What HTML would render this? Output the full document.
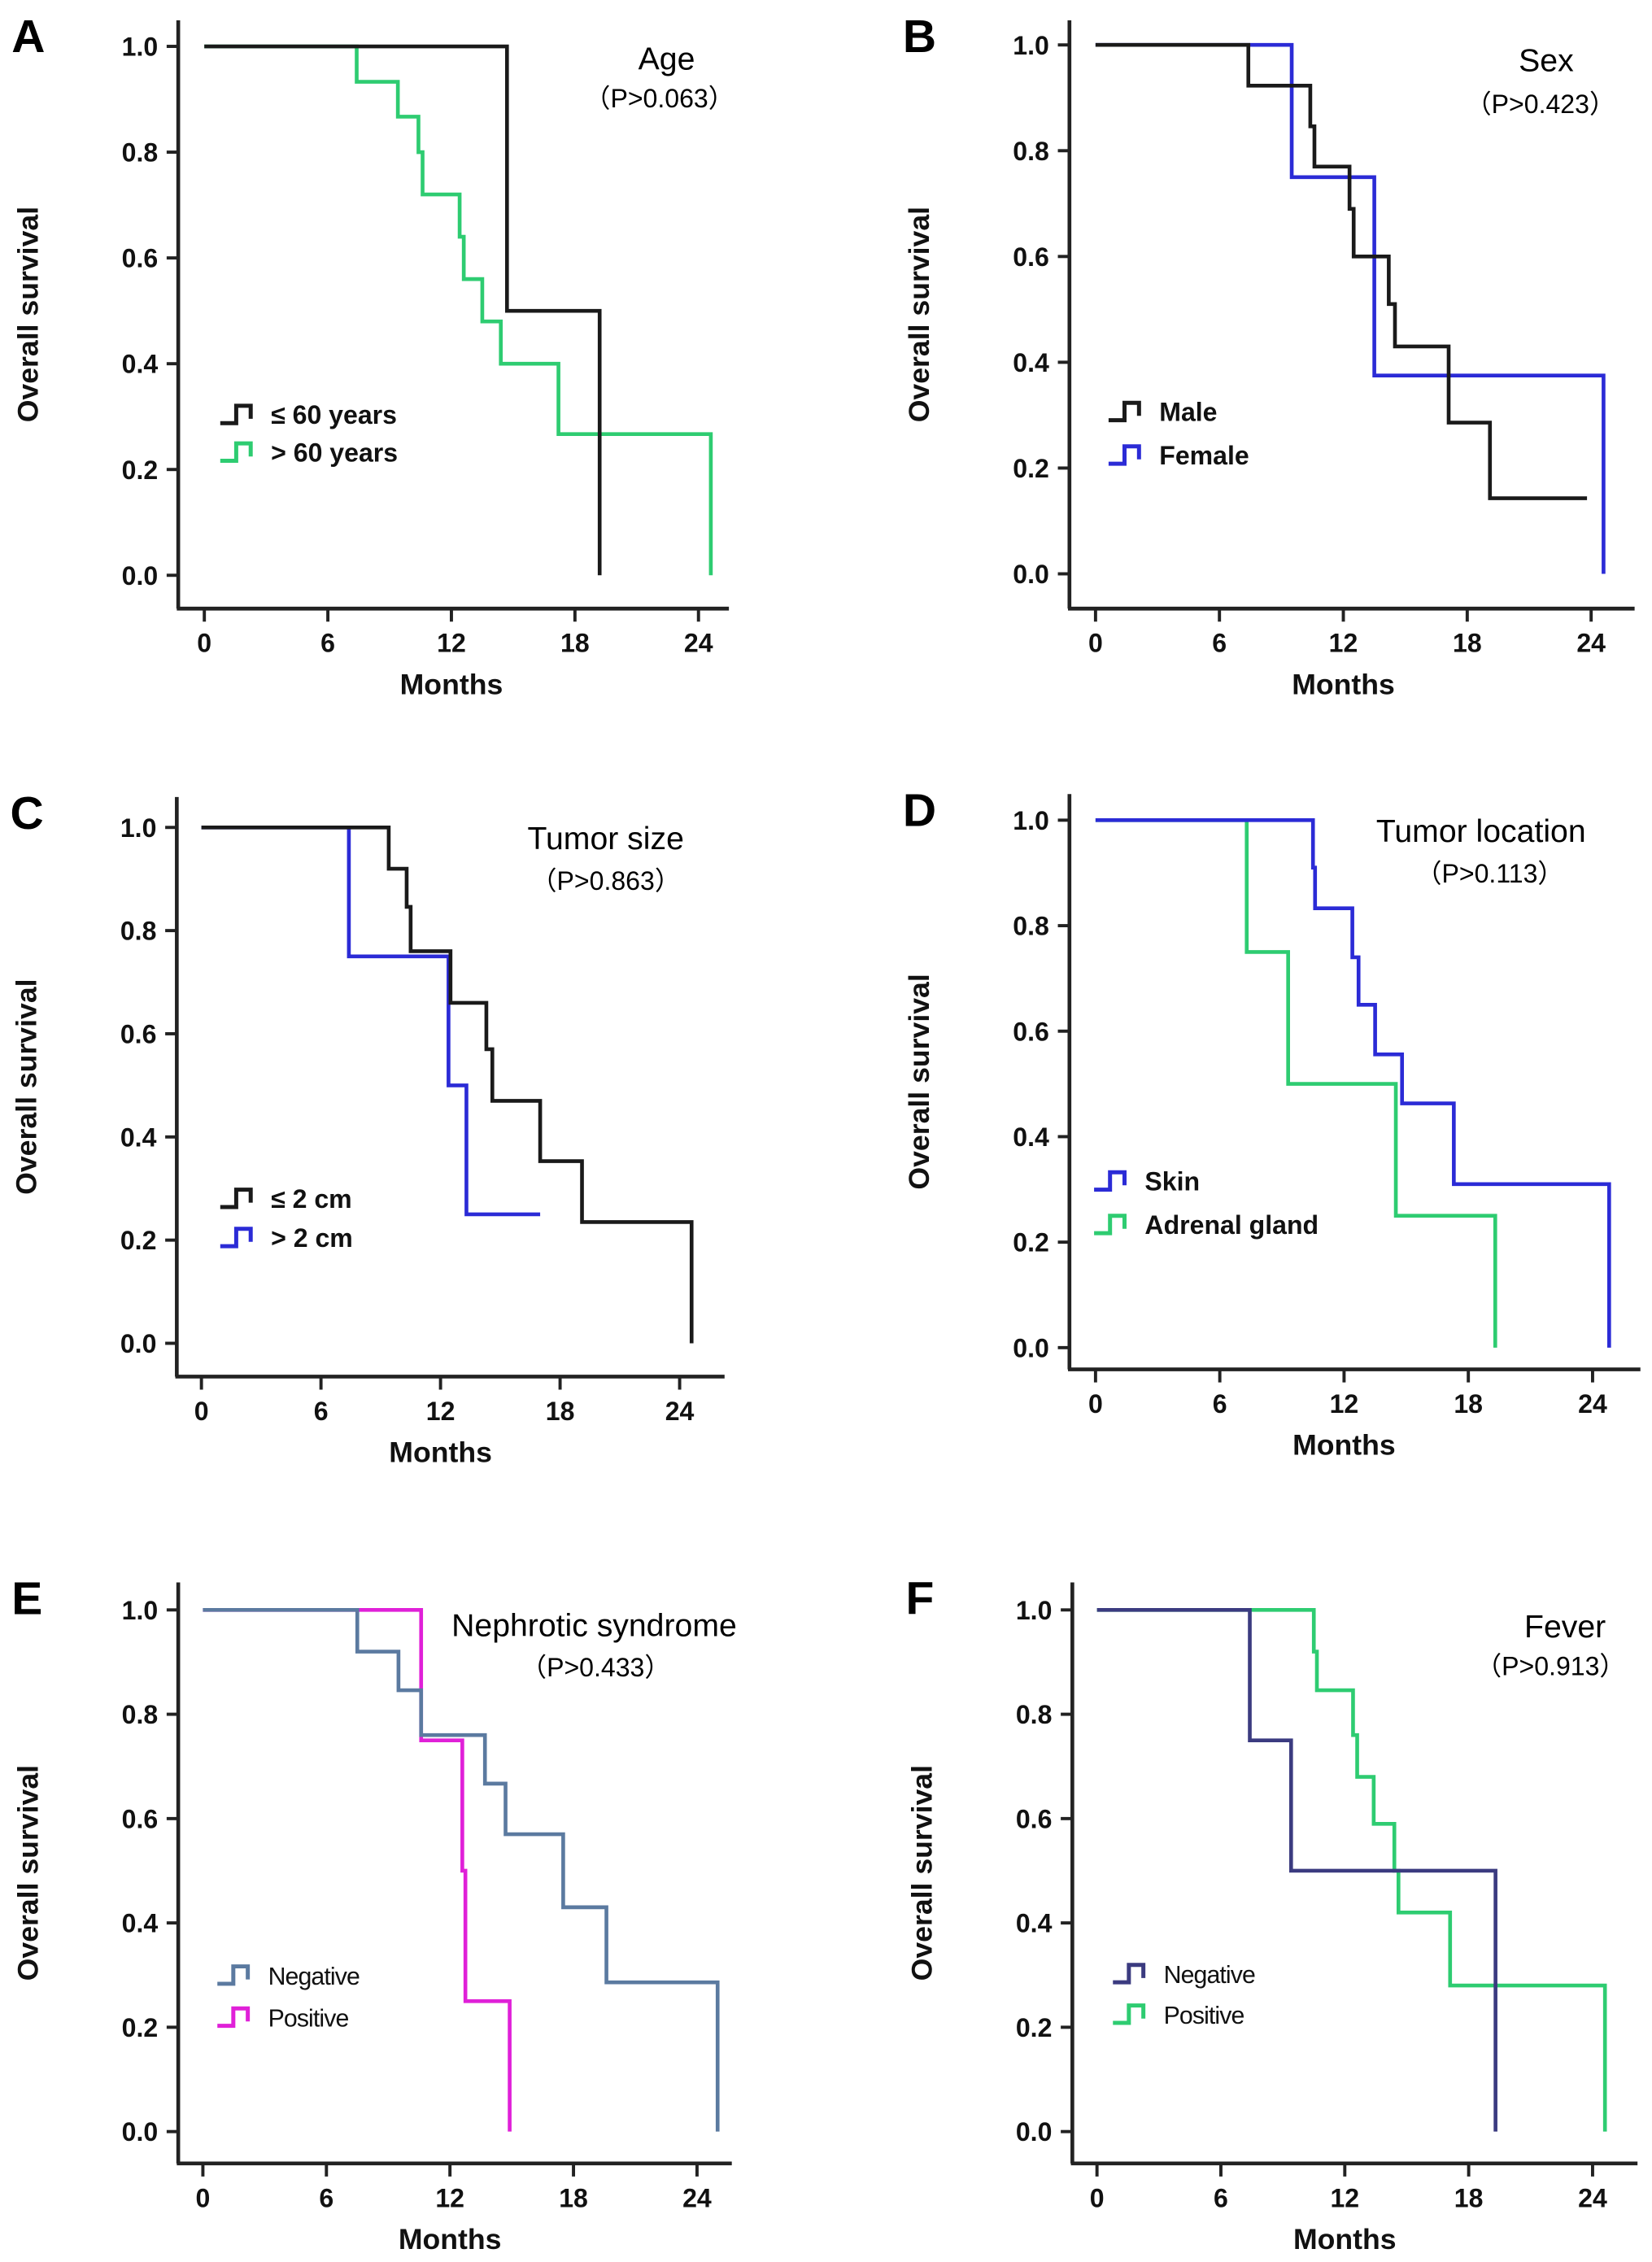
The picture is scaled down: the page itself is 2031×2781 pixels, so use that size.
<!DOCTYPE html>
<html><head><meta charset="utf-8"><style>
html,body{margin:0;padding:0;background:#fff;}
svg{display:block;}
text{font-family:"Liberation Sans",Arial,sans-serif;}
</style></head><body>
<svg id="fig" width="2031" height="2781" viewBox="0 0 1140 1561" preserveAspectRatio="none" xmlns="http://www.w3.org/2000/svg"></svg>
<script>
// ---- Data (months of step, survival after step) ----
const aYoungT=[14.7,19.2], aYoungS=[0.5,0], aYoungEnd=19.2;
const aOldT=[7.4,9.4,10.4,10.6,12.4,12.6,13.5,14.4,17.2,24.6], aOldS=[0.933,0.867,0.8,0.72,0.64,0.56,0.48,0.40,0.267,0], aOldEnd=24.6;
const bMaleT=[7.4,10.4,10.6,12.3,12.5,14.2,14.5,17.1,19.1], bMaleS=[0.923,0.846,0.77,0.69,0.6,0.51,0.43,0.286,0.143], bMaleEnd=23.8;
const bFemT=[9.5,13.5,24.6], bFemS=[0.75,0.375,0], bFemEnd=24.6;
const cSmallT=[9.4,10.3,10.5,12.5,14.3,14.6,17.0,19.1,24.6], cSmallS=[0.92,0.846,0.76,0.66,0.57,0.47,0.353,0.235,0], cSmallEnd=24.6;
const cLargeT=[7.4,12.4,13.3], cLargeS=[0.75,0.5,0.25], cLargeEnd=17.0;
const dSkinT=[10.5,10.6,12.4,12.7,13.5,14.8,17.3,24.8], dSkinS=[0.91,0.833,0.74,0.65,0.556,0.463,0.31,0], dSkinEnd=24.8;
const dAdrT=[7.3,9.3,14.5,19.3], dAdrS=[0.75,0.5,0.25,0], dAdrEnd=19.3;
const eNegT=[7.5,9.5,10.6,13.7,14.7,17.5,19.6,25.0], eNegS=[0.92,0.846,0.76,0.667,0.57,0.43,0.286,0], eNegEnd=25.0;
const ePosT=[10.6,12.6,12.75,14.9], ePosS=[0.75,0.5,0.25,0], ePosEnd=14.9;
const fNegT=[7.4,9.4,19.3], fNegS=[0.75,0.5,0], fNegEnd=19.3;
const fPosT=[10.5,10.65,12.4,12.6,13.4,14.4,14.6,17.1,24.6], fPosS=[0.92,0.846,0.76,0.68,0.59,0.5,0.42,0.28,0], fPosEnd=24.6;
const xTicks=[0,6,12,18,24];
const yTicks=[0,0.2,0.4,0.6,0.8,1.0];
const yTickLabels=["0.0","0.2","0.4","0.6","0.8","1.0"];

const NS="http://www.w3.org/2000/svg";
const svg=document.getElementById('fig');
function el(tag,attrs,parent,txt){const e=document.createElementNS(NS,tag);for(const k in attrs)e.setAttribute(k,attrs[k]);if(txt!==undefined)e.textContent=txt;(parent||svg).appendChild(e);return e;}

const panels=[
 {id:'a',letter:'A',ax:123,top:14,xaxY:420,right:503,x0:141,x24:482,y1:32,y0:397,title:'Age',tx:460,ty:40,p:'（P>0.063）',px:455,py:68,
  series:[{name:'≤ 60 years',T:aYoungT,S:aYoungS,end:aYoungEnd,c:'#1a1a1a'},{name:'> 60 years',T:aOldT,S:aOldS,end:aOldEnd,c:'#2ecc71'}],
  legX:152,legY:[286,312],bold:true},
 {id:'b',letter:'B',ax:738,top:14,xaxY:420,right:1128,x0:756,x24:1098,y1:31,y0:396,title:'Sex',tx:1067,ty:41,p:'（P>0.423）',px:1063,py:72,
  series:[{name:'Male',T:bMaleT,S:bMaleS,end:bMaleEnd,c:'#1a1a1a'},{name:'Female',T:bFemT,S:bFemS,end:bFemEnd,c:'#2b2bd6'}],
  legX:765,legY:[284,314],bold:true},
 {id:'c',letter:'C',ax:122,top:550,xaxY:950,right:500,x0:139,x24:469,y1:571,y0:927,title:'Tumor size',tx:418,ty:578,p:'（P>0.863）',px:418,py:608,
  series:[{name:'≤ 2 cm',T:cSmallT,S:cSmallS,end:cSmallEnd,c:'#1a1a1a'},{name:'> 2 cm',T:cLargeT,S:cLargeS,end:cLargeEnd,c:'#2b2bd6'}],
  legX:152,legY:[827,854],bold:true},
 {id:'d',letter:'D',ax:738,top:548,xaxY:945,right:1132,x0:756,x24:1099,y1:566,y0:930,title:'Tumor location',tx:1022,ty:573,p:'（P>0.113）',px:1028,py:603,
  series:[{name:'Skin',T:dSkinT,S:dSkinS,end:dSkinEnd,c:'#2b2bd6'},{name:'Adrenal gland',T:dAdrT,S:dAdrS,end:dAdrEnd,c:'#2ecc71'}],
  legX:755,legY:[815,845],bold:true},
 {id:'e',letter:'E',ax:123,top:1092,xaxY:1493,right:505,x0:140,x24:481,y1:1111,y0:1471,title:'Nephrotic syndrome',tx:410,ty:1121,p:'（P>0.433）',px:411,py:1151,
  series:[{name:'Negative',T:eNegT,S:eNegS,end:eNegEnd,c:'#5b7aa0'},{name:'Positive',T:ePosT,S:ePosS,end:ePosEnd,c:'#e020d8'}],
  legX:150,legY:[1363,1392],bold:false},
 {id:'f',letter:'F',ax:740,top:1092,xaxY:1493,right:1130,x0:757,x24:1099,y1:1111,y0:1471,title:'Fever',tx:1080,ty:1122,p:'（P>0.913）',px:1070,py:1150,
  series:[{name:'Negative',T:fNegT,S:fNegS,end:fNegEnd,c:'#3b3b80'},{name:'Positive',T:fPosT,S:fPosS,end:fPosEnd,c:'#2ecc71'}],
  legX:768,legY:[1362,1390],bold:false}
];

panels.forEach(P=>{
  const g=el('g',{});
  
  
  const X=m=>P.x0+(P.x24-P.x0)*m/24;
  const Y=v=>P.y0+(P.y1-P.y0)*v;
  const L=el('text',{x:P.ax-115,y:P.top+22,'font-size':32,'font-weight':'bold',fill:'#000'},g,P.letter);
  
  
  const ya=el('line',{x1:P.ax,y1:P.top,x2:P.ax,y2:P.xaxY,stroke:'#222','stroke-width':2.6},g);
  
  
  const xa=el('line',{x1:P.ax-1,y1:P.xaxY,x2:P.right,y2:P.xaxY,stroke:'#222','stroke-width':2.6},g);
  
  
  yTicks.forEach((v,i)=>{
    el('line',{x1:P.ax-8,y1:Y(v),x2:P.ax,y2:Y(v),stroke:'#222','stroke-width':2.2},g);
    const t=el('text',{x:P.ax-14,y:Y(v)+6.5,'font-size':18,'font-weight':'bold','text-anchor':'end',fill:'#111'},g,yTickLabels[i]);
    
    
  });
  xTicks.forEach(m=>{
    el('line',{x1:X(m),y1:P.xaxY,x2:X(m),y2:P.xaxY+9,stroke:'#222','stroke-width':2.2},g);
    const t=el('text',{x:X(m),y:P.xaxY+30,'font-size':18,'font-weight':'bold','text-anchor':'middle',fill:'#111'},g,String(m));
    
    
  });
  const xt=el('text',{x:X(12),y:P.xaxY+59,'font-size':20,'font-weight':'bold','text-anchor':'middle',fill:'#111'},g,'Months');
  
  
  const cy=(P.top+P.xaxY)/2;
  const yt=el('text',{x:P.ax-97,y:cy,'font-size':20,'font-weight':'bold','text-anchor':'middle',fill:'#111',transform:`rotate(-90 ${P.ax-97} ${cy})`},g,'Overall survival');
  
  
  const ti=el('text',{x:P.tx,y:P.ty+8,'font-size':22,'text-anchor':'middle',fill:'#000'},g,P.title);
  
  
  const pv=el('text',{x:P.px,y:P.py+6,'font-size':18,'text-anchor':'middle',fill:'#000'},g,P.p);
  
  
  P.series.slice().reverse().forEach(s=>{
    let d=`M${X(0)},${Y(1)}`;let cur=1;
    s.T.forEach((t,i)=>{d+=` L${X(t)},${Y(cur)} L${X(t)},${Y(s.S[i])}`;cur=s.S[i];});
    if(s.end>s.T[s.T.length-1])d+=` L${X(s.end)},${Y(cur)}`;
    const p=el('path',{d:d,fill:'none',stroke:s.c,'stroke-width':2.6},g);
    
    
  });
  P.series.forEach((s,i)=>{
    const ly=P.legY[i];const lx=P.legX;
    const sym=el('path',{d:`M${lx},${ly+6} L${lx+11},${ly+6} L${lx+11},${ly-6} L${lx+21},${ly-6} L${lx+21},${ly+3}`,fill:'none',stroke:s.c,'stroke-width':2.8},g);
    
    
    const lt=el('text',{x:lx+35,y:ly+6.5,'font-size':P.bold?18:17,'font-weight':P.bold?'bold':'normal',fill:'#111','letter-spacing':P.bold?0:-0.5},g,s.name);
    
    
  });
});
</script>
</body></html>
